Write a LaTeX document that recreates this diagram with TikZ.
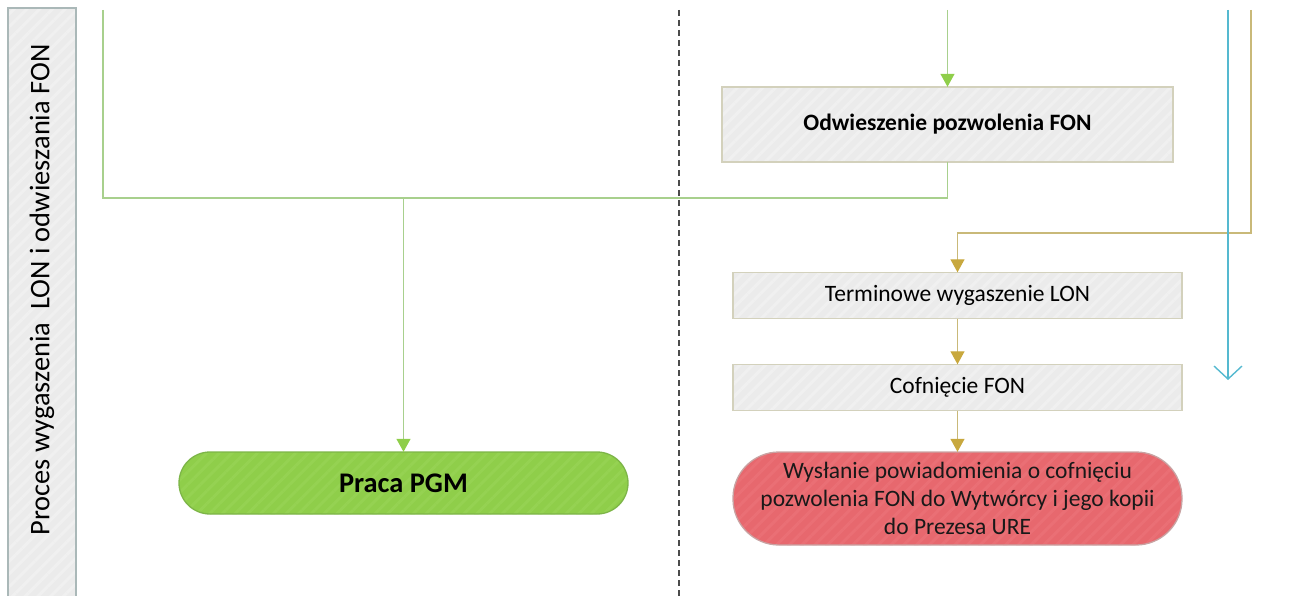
\documentclass[tikz,border=0pt]{standalone}
\usepackage{fontspec}
\setmainfont{Carlito}
\usetikzlibrary{arrows.meta,patterns.meta}
\definecolor{laneFill}{HTML}{EBEBEB}
\definecolor{laneEdge}{HTML}{AAB8B8}
\definecolor{boxFill}{HTML}{EBEBEB}
\definecolor{boxEdge}{HTML}{D3D1BC}
\definecolor{hatchGray}{HTML}{F0F0F0}
\definecolor{greenFill}{HTML}{8FCE4A}
\definecolor{greenEdge}{HTML}{7DB548}
\definecolor{hatchGreen}{HTML}{95D252}
\definecolor{redFill}{HTML}{E7686E}
\definecolor{redEdge}{HTML}{C9A3A3}
\definecolor{hatchRed}{HTML}{EA6F75}
\definecolor{gLine}{HTML}{A8D08D}
\definecolor{gTip}{HTML}{8FCE4A}
\definecolor{oLine}{HTML}{C9B979}
\definecolor{oTip}{HTML}{C8A83E}
\definecolor{cLine}{HTML}{55B9D0}
\definecolor{dashCol}{HTML}{4A4A4A}
\tikzset{
  hatch/.style 2 args={fill=#1,postaction={pattern={Lines[angle=45,distance=9pt,line width=3pt]},pattern color=#2}},
  edge/.style={postaction={draw=#1,line width=1.3pt}},
  graybox/.style={rectangle,hatch={boxFill}{hatchGray},edge=boxEdge,
    minimum width=449pt,inner sep=0pt,text=black,font=\fontsize{23.5}{28}\selectfont},
  gline/.style={draw=gLine,line width=1.3pt},
  oline/.style={draw=oLine,line width=1.2pt},
  gtip/.style={-{Triangle[length=13pt,width=14pt,fill=gTip,color=gTip]}},
  otip/.style={-{Triangle[length=13pt,width=14pt,fill=oTip,color=oTip]}},
}
\begin{document}
\begin{tikzpicture}[x=1pt,y=-1pt]
\useasboundingbox (0,0) rectangle (1294,596);
% lane band
\path[hatch={laneFill}{hatchGray},edge=laneEdge] (8,8) rectangle (76,610);
\node[rotate=90,font=\fontsize{28.4}{32}\selectfont,text=black] (lane) at (42,290) {Proces wygaszenia\ \ LON i odwieszania FON};
% separator
\coordinate (d1) at (679,10);
\coordinate (d2) at (679,596);
\draw[dashCol,line width=1.2pt,dash pattern=on 6pt off 4pt] (d1) -- (d2);
% nodes
\node[graybox,minimum width=451pt,minimum height=75pt,font=\bfseries\fontsize{23.5}{28}\selectfont] (odw) at (947.5,124.5) {Odwieszenie pozwolenia FON};
\node[graybox,minimum height=46pt] (term) at (957.5,295.5) {Terminowe wygaszenie LON};
\node[graybox,minimum height=46pt] (cof) at (957.5,387.5) {Cofnięcie FON};
\node[rectangle,rounded corners=46pt,hatch={redFill}{hatchRed},edge=redEdge,
  minimum width=449pt,minimum height=93pt,inner sep=0pt,align=center,text=black!90,
  font=\fontsize{23.5}{28}\selectfont] (red) at (957.5,498.5)
  {Wysłanie powiadomienia o cofnięciu\\pozwolenia FON do Wytwórcy i jego kopii\\do Prezesa URE};
\node[rectangle,rounded corners=31pt,hatch={greenFill}{hatchGreen},edge=greenEdge,
  minimum width=449pt,minimum height=62pt,inner sep=0pt,text=black,
  font=\bfseries\fontsize{28.4}{32}\selectfont] (pgm) at (403.5,483) {Praca PGM};
% coordinates
\coordinate (t1) at (103,10);
\coordinate (j) at (403.5,198);
\coordinate (t2) at (947.5,10);
\coordinate (t3) at (1251,10);
\coordinate (c3) at (957.5,233);
\coordinate (t4) at (1228,10);
\coordinate (e4) at (1228,380);
% green connectors
\draw[gline] (t1) |- (j);
\draw[gline] (odw.south) |- (j);
\draw[gline,gtip] (j) -- (pgm.north);
\draw[gline,gtip] (t2) -- (odw.north);
% olive connectors
\draw[oline,otip] (t3) |- (c3) -- (term.north);
\draw[oline,otip] (term.south) -- (cof.north);
\draw[oline,otip] (cof.south) -- (red.north);
% cyan
\draw[cLine,line width=1.4pt,-{Straight Barb[length=13pt,width=28pt,line width=1.4pt]}] (t4) -- (e4);
\end{tikzpicture}
\end{document}
